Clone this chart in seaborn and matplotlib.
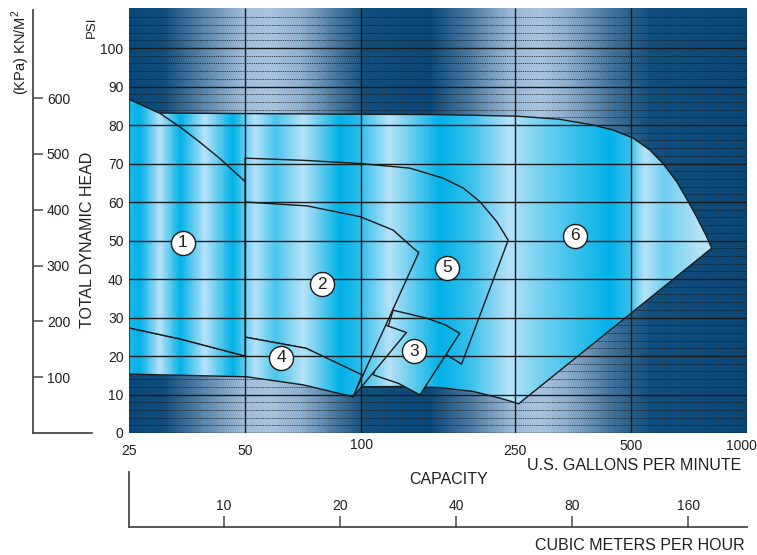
import numpy as np
import matplotlib
matplotlib.use("Agg")
import matplotlib.pyplot as plt
from matplotlib.colors import LinearSegmentedColormap
from matplotlib.patches import Polygon
from matplotlib.ticker import NullLocator
from matplotlib.transforms import ScaledTranslation
import seaborn as sns

# === Data: outline of each pump range in (gpm, psi) ===
region6_gpm = [25, 30.6, 99.3, 160, 253, 327, 399, 450, 507, 560, 606, 657, 697, 740, 786, 810,
               256, 230, 195, 160, 130, 100.8, 60, 25]
region6_psi = [83.2, 83.1, 82.8, 82.7, 82.3, 81.5, 80.0, 78.7, 76.6, 73.5, 70.0, 65.3, 60.9, 56.2, 51.0, 48.0,
               7.6, 9.0, 10.8, 11.8, 12.1, 12.0, 15.0, 16.0]

region5_gpm = [50, 50, 72, 99.3, 133.7, 163, 184, 203, 224.6, 240.4, 182, 166.5, 135, 105, 100]
region5_psi = [60.0, 71.4, 70.8, 70.0, 68.8, 66.2, 63.6, 60.1, 54.9, 50.1, 17.9, 20.3, 20.0, 25.0, 45.0]

region3_gpm = [107.5, 121, 148, 165, 180, 142, 124.8]
region3_psi = [15.1, 31.9, 29.8, 28.1, 25.9, 9.9, 12.9]

sliver_gpm = [115, 131, 95.3]
sliver_psi = [28.1, 26.1, 9.4]

region2_gpm = [50, 50, 72.3, 99.3, 121, 136.5, 141, 100.8, 72]
region2_psi = [24.9, 60.0, 59.0, 56.2, 52.7, 48.0, 46.9, 14.8, 22.0]

region4_gpm = [25, 50.5, 70.8, 95.3, 100.5, 72, 50, 50, 34, 25]
region4_psi = [15.3, 14.6, 12.5, 9.4, 15.1, 22.0, 24.9, 20.0, 24.4, 27.3]

region1_gpm = [25, 30.1, 33.9, 38.2, 43.0, 50, 50, 34, 25]
region1_psi = [86.7, 83.0, 79.5, 75.5, 71.3, 65.3, 20.0, 24.4, 27.3]

label_text = ["1", "2", "3", "4", "5", "6"]
label_gpm = [34.5, 79, 137, 62, 166.6, 358]
label_psi = [49.4, 38.7, 21.3, 19.5, 42.9, 51.2]

gpm_ticks = [25, 50, 100, 250, 500, 1000]
psi_ticks = [0, 10, 20, 30, 40, 50, 60, 70, 80, 90, 100]
kpa_ticks = [100, 200, 300, 400, 500, 600]
m3h_ticks = [10, 20, 40, 80, 160]

GPM_PER_M3H = 4.403
KPA_PER_PSI = 6.895

# === Style ===
sns.set_theme(style="white")
plt.rcParams["font.family"] = ["Liberation Sans", "DejaVu Sans"]
plt.rcParams["mathtext.fontset"] = "custom"
plt.rcParams["mathtext.rm"] = "Liberation Sans"
TXT = "#231f20"
LINE = "#1a1a1a"

# colour bands, position as fraction of the log gpm axis
fill_pos = [0.0, 0.018, 0.05, 0.083, 0.123, 0.168, 0.204, 0.237, 0.282, 0.341, 0.37, 0.422, 0.503, 0.552, 0.616, 0.672, 0.778, 0.81, 0.835, 0.867, 0.924, 1.0]
fill_val = [0.15, 0.0, 1.0, 0.0, 1.0, 0.0, 1.0, 0.4, 1.0, 0.0, 0.2, 1.0, 0.0, 0.3, 1.0, 0.6, 0.0, 0.3, 1.0, 0.6, 1.0, 1.0]
bg_pos = [0.0, 0.058, 0.115, 0.188, 0.228, 0.277, 0.333, 0.382, 0.487, 0.552, 0.616, 0.665, 0.706, 0.78, 0.843, 1.0]
bg_val = [0.0, 0.05, 0.45, 0.95, 1.0, 0.85, 0.4, 0.05, 0.0, 0.4, 0.9, 1.0, 0.85, 0.35, 0.05, 0.0]
xlabel_dy = [-2, -2, 2.5, -2, 2, 2]  # points, some tick labels sit higher
xlabel_dx = [0, 0, 0, 0, 0, -4]      # points, keep "1000" inside the figure

cmap_fill = LinearSegmentedColormap.from_list("fill", ["#00b1e7", "#b6e2f7"])
cmap_bg = LinearSegmentedColormap.from_list("bg", ["#0b4877", "#a9c2de"])

W, H = 757, 555
fig = plt.figure(figsize=(W / 100, H / 100), dpi=100)


def fx(px):
    return px / W


def fy(py):
    return 1 - py / H


YTOP = 110.4
ax = fig.add_axes([fx(129), fy(433), fx(747 - 129), (433 - 8) / H])
ax.set_xscale("log")
ax.set_xlim(25, 1000)
ax.set_ylim(0, YTOP)

xe = np.logspace(np.log10(25), np.log10(1000), 700)
xm = np.sqrt(xe[:-1] * xe[1:])
frac = np.log(xm / 25) / np.log(40)
ye = [0, YTOP]

# background
bg = np.interp(frac, bg_pos, bg_val)[None, :]
ax.pcolormesh(xe, ye, bg, cmap=cmap_bg, vmin=0, vmax=1, shading="flat", zorder=0)

# dotted minor lines in the background
minor = [v for v in np.arange(2, 111, 2) if v % 10 != 0]
ax.hlines(minor, 25, 1000, colors="#111111", linestyles=(0, (1.0, 1.0)), lw=0.65, alpha=0.85, zorder=0.5)

# pump ranges
fill = np.interp(frac, fill_pos, fill_val)[None, :]
regions = [
    (region6_gpm, region6_psi),
    (region5_gpm, region5_psi),
    (region3_gpm, region3_psi),
    (sliver_gpm, sliver_psi),
    (region2_gpm, region2_psi),
    (region4_gpm, region4_psi),
    (region1_gpm, region1_psi),
]
for i, (g, p) in enumerate(regions):
    z = 1 + i * 0.1
    pts = np.column_stack([g, p])
    clip = Polygon(pts, closed=True, transform=ax.transData)
    mesh = ax.pcolormesh(xe, ye, fill, cmap=cmap_fill, vmin=0, vmax=1, shading="flat", zorder=z)
    mesh.set_clip_path(clip)
    ax.add_patch(Polygon(pts, closed=True, fill=False, ec=LINE, lw=1.0, joinstyle="round", zorder=z + 0.05))

# grid
ax.hlines(psi_ticks, 25, 1000, colors=LINE, lw=1.0, zorder=5)
ax.vlines([50, 100, 250, 500, 1000], 0, YTOP, colors=LINE, lw=1.0, zorder=5)

# numbered labels
sns.scatterplot(x=label_gpm, y=label_psi, s=300, color="white", edgecolor=LINE,
                linewidth=1.0, zorder=9, ax=ax, legend=False)
for t, g, p in zip(label_text, label_gpm, label_psi):
    ax.text(g, p, t, ha="center", va="center", fontsize=12.5, color=TXT, zorder=10)

for s in ax.spines.values():
    s.set_visible(False)
ax.set_xticks(gpm_ticks, labels=[str(v) for v in gpm_ticks])
ax.xaxis.set_minor_locator(NullLocator())
ax.set_yticks(psi_ticks, labels=[str(v) for v in psi_ticks])
ax.tick_params(axis="both", length=0, labelsize=10, labelcolor=TXT)
ax.tick_params(axis="x", pad=6)
ax.tick_params(axis="y", pad=4)
for lbl, dx, dy in zip(ax.get_xticklabels(), xlabel_dx, xlabel_dy):
    lbl.set_transform(lbl.get_transform() + ScaledTranslation(dx / 72, dy / 72, fig.dpi_scale_trans))

# kPa scale on the far left
axk = fig.add_axes([fx(33), fy(433), fx(92 - 33), (433 - 10) / H])
axk.set_facecolor("none")
axk.set_ylim(0, 423 * YTOP / 425 * KPA_PER_PSI)
axk.set_xticks([])
axk.yaxis.tick_right()
axk.spines["right"].set_position(("axes", 0))
axk.spines["left"].set_visible(False)
axk.spines["top"].set_visible(False)
for s in ("right", "bottom"):
    axk.spines[s].set_color("#4a4a4a")
    axk.spines[s].set_linewidth(1.3)
axk.set_yticks(kpa_ticks, labels=[str(v) for v in kpa_ticks])
axk.tick_params(axis="y", direction="out", length=7, width=1.1, color="#4a4a4a",
                pad=3, labelsize=10, labelcolor=TXT)

# cubic metres per hour scale at the bottom
axm = fig.add_axes([fx(129), fy(527), fx(747 - 129), (527 - 472) / H])
axm.set_facecolor("none")
axm.set_xscale("log")
axm.set_xlim(25 / GPM_PER_M3H, 1000 / GPM_PER_M3H)
axm.set_yticks([])
axm.xaxis.tick_top()
axm.spines["top"].set_position(("axes", 0))
axm.spines["bottom"].set_visible(False)
axm.spines["right"].set_visible(False)
for s in ("top", "left"):
    axm.spines[s].set_color("#4a4a4a")
    axm.spines[s].set_linewidth(1.3)
axm.set_xticks(m3h_ticks, labels=[str(v) for v in m3h_ticks])
axm.xaxis.set_minor_locator(NullLocator())
axm.tick_params(axis="x", direction="out", length=8, width=1.1, color="#4a4a4a",
                pad=2, labelsize=10, labelcolor=TXT)

# titles
fig.text(fx(21), fy(10), "(KPa) KN/M$^2$", rotation=90, ha="center", va="top", fontsize=10.5, color=TXT)
fig.text(fx(92), fy(27), "PSI", rotation=90, ha="center", va="center", fontsize=9.5, color=TXT)
fig.text(fx(88), fy(240), "TOTAL DYNAMIC HEAD", rotation=90, ha="center", va="center", fontsize=11.5, color=TXT)
fig.text(fx(741), fy(466), "U.S. GALLONS PER MINUTE", ha="right", va="center", fontsize=11.5, color=TXT)
fig.text(fx(449), fy(480), "CAPACITY", ha="center", va="center", fontsize=11.5, color=TXT)
fig.text(fx(745), fy(546), "CUBIC METERS PER HOUR", ha="right", va="center", fontsize=11.5, color=TXT)

fig.savefig("out.png", dpi=100)
